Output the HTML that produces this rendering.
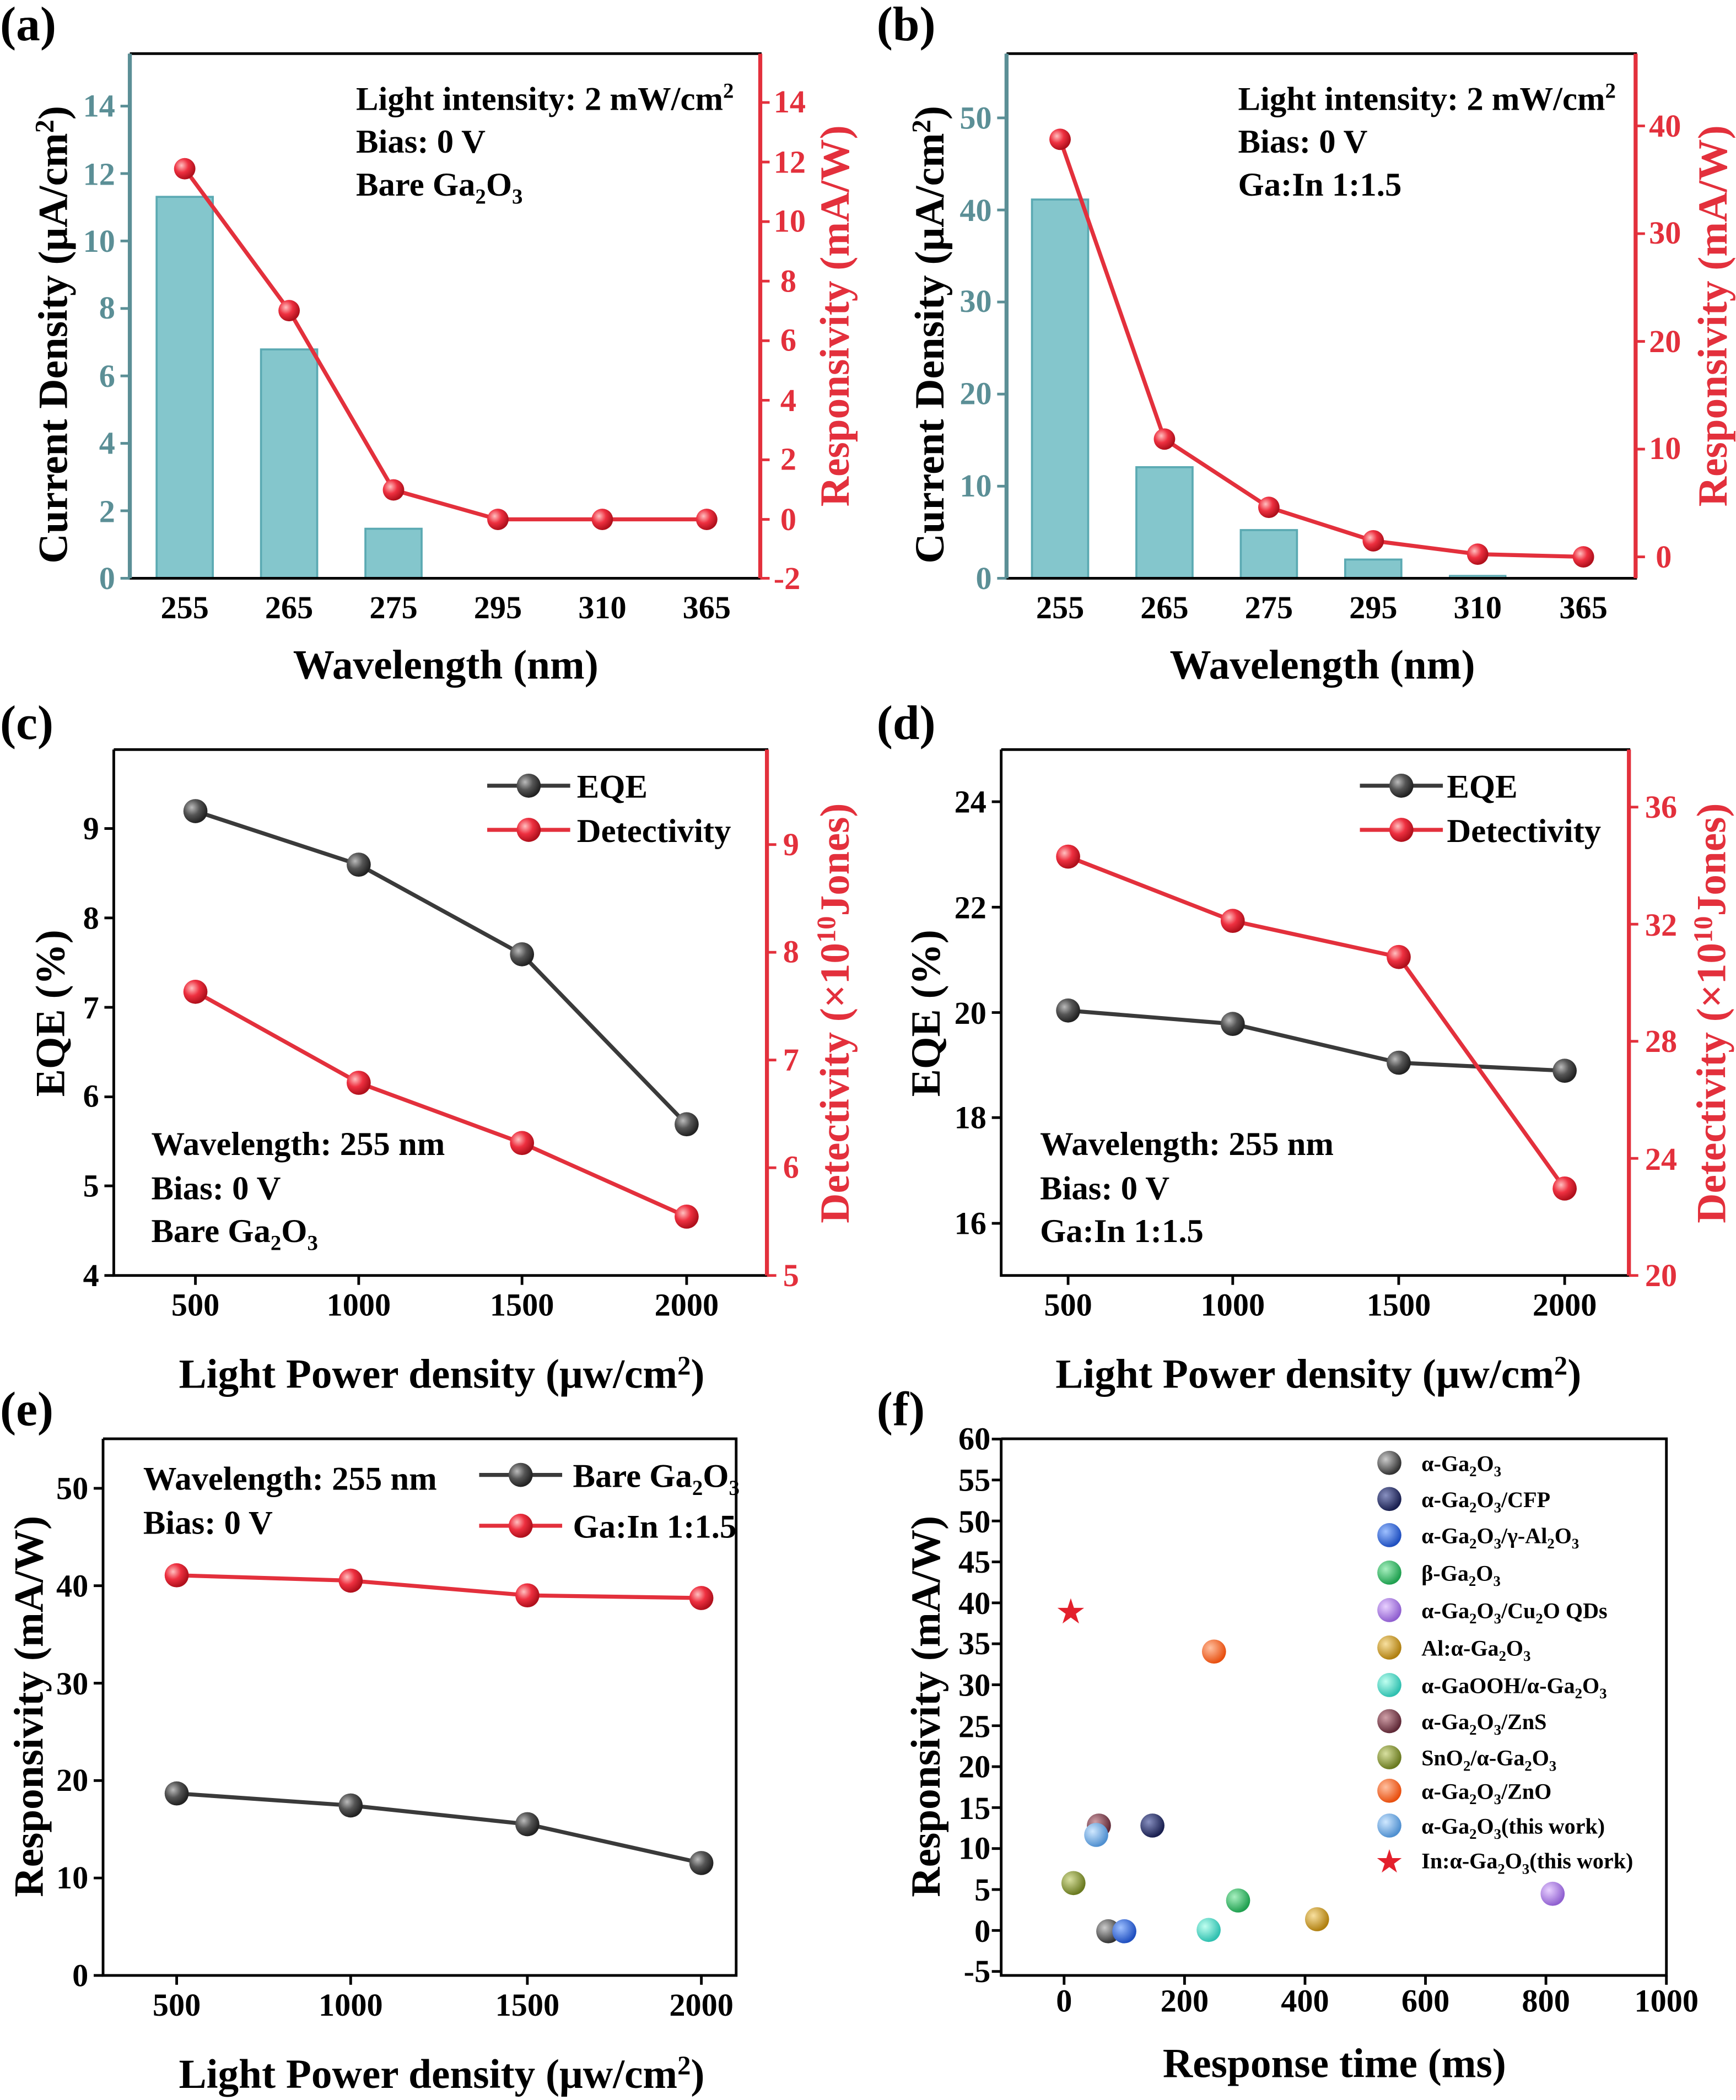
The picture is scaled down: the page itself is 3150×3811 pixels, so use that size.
<!DOCTYPE html>
<html><head><meta charset="utf-8"><style>
html,body{margin:0;padding:0;background:#fff}
svg{display:block}
text{font-family:"Liberation Serif",serif;font-weight:bold}
.t{font-size:24px;font-weight:bold}
.ti{font-size:31px}
.an{font-size:25px}
.p{font-size:36px}
.tl{fill:#5b8f96}
.r{fill:#e3303c}
</style></head><body>
<svg width="3150" height="3811" viewBox="0 0 1297 1569" xmlns="http://www.w3.org/2000/svg">
<defs>
<radialGradient id="gk" cx="35%" cy="35%" r="65%"><stop offset="0" stop-color="#bbb"/><stop offset="0.5" stop-color="#555"/><stop offset="1" stop-color="#222"/></radialGradient>
<radialGradient id="gr" cx="35%" cy="35%" r="65%"><stop offset="0" stop-color="#ffc0c0"/><stop offset="0.5" stop-color="#ee3040"/><stop offset="1" stop-color="#b0101c"/></radialGradient>
<radialGradient id="c1" cx="35%" cy="35%" r="65%"><stop offset="0" stop-color="#ccc"/><stop offset="1" stop-color="#333"/></radialGradient>
<radialGradient id="c2" cx="35%" cy="35%" r="65%"><stop offset="0" stop-color="#8890c0"/><stop offset="1" stop-color="#1a2050"/></radialGradient>
<radialGradient id="c3" cx="35%" cy="35%" r="65%"><stop offset="0" stop-color="#9ec0ff"/><stop offset="1" stop-color="#2050c0"/></radialGradient>
<radialGradient id="c4" cx="35%" cy="35%" r="65%"><stop offset="0" stop-color="#a8f0c0"/><stop offset="1" stop-color="#20a050"/></radialGradient>
<radialGradient id="c5" cx="35%" cy="35%" r="65%"><stop offset="0" stop-color="#e8d0ff"/><stop offset="1" stop-color="#9060d0"/></radialGradient>
<radialGradient id="c6" cx="35%" cy="35%" r="65%"><stop offset="0" stop-color="#f8e0a0"/><stop offset="1" stop-color="#b08010"/></radialGradient>
<radialGradient id="c7" cx="35%" cy="35%" r="65%"><stop offset="0" stop-color="#c0fff0"/><stop offset="1" stop-color="#30c0b0"/></radialGradient>
<radialGradient id="c8" cx="35%" cy="35%" r="65%"><stop offset="0" stop-color="#d0a0a8"/><stop offset="1" stop-color="#602a38"/></radialGradient>
<radialGradient id="c9" cx="35%" cy="35%" r="65%"><stop offset="0" stop-color="#d8e0a0"/><stop offset="1" stop-color="#6a7a20"/></radialGradient>
<radialGradient id="c10" cx="35%" cy="35%" r="65%"><stop offset="0" stop-color="#ffc0a0"/><stop offset="1" stop-color="#e85010"/></radialGradient>
<radialGradient id="c11" cx="35%" cy="35%" r="65%"><stop offset="0" stop-color="#d0e8ff"/><stop offset="1" stop-color="#5090d0"/></radialGradient>
</defs>

<text class="p" x="0" y="30">(a)</text>
<text class="p" x="655" y="30">(b)</text>
<text class="p" x="0" y="552">(c)</text>
<text class="p" x="655" y="552">(d)</text>
<text class="p" x="0" y="1065">(e)</text>
<text class="p" x="655" y="1065">(f)</text>

<!-- (a) -->
<g>
<rect x="117" y="147" width="42" height="285" fill="#84c6cc" stroke="#5aa9b2" stroke-width="1.5"/>
<rect x="195" y="261" width="42" height="171" fill="#84c6cc" stroke="#5aa9b2" stroke-width="1.5"/>
<rect x="273" y="395" width="42" height="37" fill="#84c6cc" stroke="#5aa9b2" stroke-width="1.5"/>
<path d="M97 40V432H568V40H97" fill="none" stroke="#000" stroke-width="2"/>
<line x1="97" y1="40" x2="97" y2="432" stroke="#5b8f96" stroke-width="3"/>
<line x1="568" y1="40" x2="568" y2="432" stroke="#e3303c" stroke-width="3"/>
<g stroke="#5b8f96" stroke-width="2"><path d="M97 432h-7M97 381.6h-7M97 331.2h-7M97 280.8h-7M97 230.4h-7M97 180h-7M97 129.6h-7M97 79.2h-7"/></g>
<g stroke="#e3303c" stroke-width="2"><path d="M568 432h7M568 388h7M568 343.5h7M568 299h7M568 254.5h7M568 210h7M568 165.5h7M568 121h7M568 76.5h7"/></g>
<g class="t tl" text-anchor="end"><text x="86" y="440">0</text><text x="86" y="390">2</text><text x="86" y="339">4</text><text x="86" y="289">6</text><text x="86" y="238">8</text><text x="86" y="188">10</text><text x="86" y="138">12</text><text x="86" y="87">14</text></g>
<g class="t r" text-anchor="start"><text x="578" y="440">-2</text><text x="583" y="396">0</text><text x="583" y="351">2</text><text x="583" y="307">4</text><text x="583" y="262">6</text><text x="583" y="218">8</text><text x="578" y="173">10</text><text x="578" y="129">12</text><text x="578" y="84">14</text></g>
<g class="t" text-anchor="middle"><text x="138" y="462">255</text><text x="216" y="462">265</text><text x="294" y="462">275</text><text x="372" y="462">295</text><text x="450" y="462">310</text><text x="528" y="462">365</text></g>
<polyline points="138,126 216,232 294,366 372,388 450,388 528,388" fill="none" stroke="#e3303c" stroke-width="3"/>
<g fill="url(#gr)"><circle cx="138" cy="126" r="8"/><circle cx="216" cy="232" r="8"/><circle cx="294" cy="366" r="8"/><circle cx="372" cy="388" r="8"/><circle cx="450" cy="388" r="8"/><circle cx="528" cy="388" r="8"/></g>
<g class="an"><text x="266" y="82">Light intensity: 2 mW/cm<tspan dy="-9" font-size="16">2</tspan></text><text x="266" y="114">Bias: 0 V</text><text x="266" y="146">Bare Ga<tspan dy="6" font-size="16">2</tspan><tspan dy="-6">O</tspan><tspan dy="6" font-size="16">3</tspan></text></g>
<text class="ti" text-anchor="middle" transform="translate(50,250) rotate(-90)">Current Density (μA/cm<tspan dy="-10" font-size="20">2</tspan><tspan dy="10">)</tspan></text>
<text class="ti r" text-anchor="middle" transform="translate(634,236) rotate(-90)">Responsivity (mA/W)</text>
<text class="ti" text-anchor="middle" x="333" y="507">Wavelength (nm)</text>
</g>

<!-- (b) -->
<g>
<rect x="771" y="149" width="42" height="283" fill="#84c6cc" stroke="#5aa9b2" stroke-width="1.5"/>
<rect x="849" y="349" width="42" height="83" fill="#84c6cc" stroke="#5aa9b2" stroke-width="1.5"/>
<rect x="927" y="396" width="42" height="36" fill="#84c6cc" stroke="#5aa9b2" stroke-width="1.5"/>
<rect x="1005" y="418" width="42" height="14" fill="#84c6cc" stroke="#5aa9b2" stroke-width="1.5"/>
<rect x="1083" y="430" width="42" height="2" fill="#84c6cc" stroke="#5aa9b2" stroke-width="1"/>
<path d="M752 40V432H1222V40H752" fill="none" stroke="#000" stroke-width="2"/>
<line x1="752" y1="40" x2="752" y2="432" stroke="#5b8f96" stroke-width="3"/>
<line x1="1222" y1="40" x2="1222" y2="432" stroke="#e3303c" stroke-width="3"/>
<g stroke="#5b8f96" stroke-width="2"><path d="M752 432h-7M752 363.2h-7M752 294.4h-7M752 225.6h-7M752 156.8h-7M752 88h-7"/></g>
<g stroke="#e3303c" stroke-width="2"><path d="M1222 416h7M1222 335.5h7M1222 255h7M1222 174.5h7M1222 94h7"/></g>
<g class="t tl" text-anchor="end"><text x="741" y="440">0</text><text x="741" y="371">10</text><text x="741" y="302">20</text><text x="741" y="233">30</text><text x="741" y="165">40</text><text x="741" y="96">50</text></g>
<g class="t r"><text x="1237" y="424">0</text><text x="1232" y="343">10</text><text x="1232" y="263">20</text><text x="1232" y="182">30</text><text x="1232" y="102">40</text></g>
<g class="t" text-anchor="middle"><text x="792" y="462">255</text><text x="870" y="462">265</text><text x="948" y="462">275</text><text x="1026" y="462">295</text><text x="1104" y="462">310</text><text x="1183" y="462">365</text></g>
<polyline points="792,104 870,328 948,379 1026,404 1104,414 1183,416" fill="none" stroke="#e3303c" stroke-width="3"/>
<g fill="url(#gr)"><circle cx="792" cy="104" r="8"/><circle cx="870" cy="328" r="8"/><circle cx="948" cy="379" r="8"/><circle cx="1026" cy="404" r="8"/><circle cx="1104" cy="414" r="8"/><circle cx="1183" cy="416" r="8"/></g>
<g class="an"><text x="925" y="82">Light intensity: 2 mW/cm<tspan dy="-9" font-size="16">2</tspan></text><text x="925" y="114">Bias: 0 V</text><text x="925" y="146">Ga:In 1:1.5</text></g>
<text class="ti" text-anchor="middle" transform="translate(705,250) rotate(-90)">Current Density (μA/cm<tspan dy="-10" font-size="20">2</tspan><tspan dy="10">)</tspan></text>
<text class="ti r" text-anchor="middle" transform="translate(1290,236) rotate(-90)">Responsivity (mA/W)</text>
<text class="ti" text-anchor="middle" x="988" y="507">Wavelength (nm)</text>
</g>

<!-- (c) -->
<g>
<path d="M85 560V953H573V560H85" fill="none" stroke="#000" stroke-width="2"/>
<line x1="573" y1="560" x2="573" y2="953" stroke="#e3303c" stroke-width="3"/>
<g stroke="#000" stroke-width="2"><path d="M85 953h-7M85 886h-7M85 819.5h-7M85 752.6h-7M85 685.8h-7M85 619h-7M146 953v7M268 953v7M390 953v7M513 953v7"/></g>
<g stroke="#e3303c" stroke-width="2"><path d="M573 953h7M573 872.5h7M573 792h7M573 711.5h7M573 631h7"/></g>
<g class="t" text-anchor="end"><text x="74" y="961">4</text><text x="74" y="894">5</text><text x="74" y="827">6</text><text x="74" y="761">7</text><text x="74" y="694">8</text><text x="74" y="627">9</text></g>
<g class="t r"><text x="585" y="961">5</text><text x="585" y="880">6</text><text x="585" y="800">7</text><text x="585" y="719">8</text><text x="585" y="639">9</text></g>
<g class="t" text-anchor="middle"><text x="146" y="983">500</text><text x="268" y="983">1000</text><text x="390" y="983">1500</text><text x="513" y="983">2000</text></g>
<polyline points="146,606 268,646 390,713 513,840" fill="none" stroke="#3a3a3a" stroke-width="3"/>
<polyline points="146,741 268,809 390,854 513,909" fill="none" stroke="#e3303c" stroke-width="3"/>
<g fill="url(#gk)"><circle cx="146" cy="606" r="9"/><circle cx="268" cy="646" r="9"/><circle cx="390" cy="713" r="9"/><circle cx="513" cy="840" r="9"/></g>
<g fill="url(#gr)"><circle cx="146" cy="741" r="9"/><circle cx="268" cy="809" r="9"/><circle cx="390" cy="854" r="9"/><circle cx="513" cy="909" r="9"/></g>
<line x1="364" y1="587" x2="426" y2="587" stroke="#3a3a3a" stroke-width="3"/><circle cx="395" cy="587" r="9" fill="url(#gk)"/>
<line x1="364" y1="620" x2="426" y2="620" stroke="#e3303c" stroke-width="3"/><circle cx="395" cy="620" r="9" fill="url(#gr)"/>
<g class="an"><text x="431" y="596">EQE</text><text x="431" y="629">Detectivity</text></g>
<g class="an"><text x="113" y="863">Wavelength: 255 nm</text><text x="113" y="896">Bias: 0 V</text><text x="113" y="928">Bare Ga<tspan dy="6" font-size="16">2</tspan><tspan dy="-6">O</tspan><tspan dy="6" font-size="16">3</tspan></text></g>
<text class="ti" text-anchor="middle" transform="translate(48,757) rotate(-90)">EQE (%)</text>
<text class="ti r" text-anchor="middle" transform="translate(634,757) rotate(-90)">Detectivity (×10<tspan dy="-10" font-size="20">10</tspan><tspan dy="10">Jones)</tspan></text>
<text class="ti" text-anchor="middle" x="330" y="1037">Light Power density (μw/cm<tspan dy="-10" font-size="20">2</tspan><tspan dy="10">)</tspan></text>
</g>

<!-- (d) -->
<g>
<path d="M748 560V953H1217V560H748" fill="none" stroke="#000" stroke-width="2"/>
<line x1="1217" y1="560" x2="1217" y2="953" stroke="#e3303c" stroke-width="3"/>
<g stroke="#000" stroke-width="2"><path d="M748 914h-7M748 835h-7M748 756.5h-7M748 677.8h-7M748 599h-7M798 953v7M921 953v7M1045 953v7M1169 953v7"/></g>
<g stroke="#e3303c" stroke-width="2"><path d="M1217 953h7M1217 865.5h7M1217 778h7M1217 690.5h7M1217 603h7"/></g>
<g class="t" text-anchor="end"><text x="737" y="922">16</text><text x="737" y="843">18</text><text x="737" y="765">20</text><text x="737" y="686">22</text><text x="737" y="607">24</text></g>
<g class="t r"><text x="1229" y="961">20</text><text x="1229" y="874">24</text><text x="1229" y="786">28</text><text x="1229" y="699">32</text><text x="1229" y="611">36</text></g>
<g class="t" text-anchor="middle"><text x="798" y="983">500</text><text x="921" y="983">1000</text><text x="1045" y="983">1500</text><text x="1169" y="983">2000</text></g>
<polyline points="798,755 921,765 1045,794 1169,800" fill="none" stroke="#3a3a3a" stroke-width="3"/>
<polyline points="798,640 921,688 1045,715 1169,888" fill="none" stroke="#e3303c" stroke-width="3"/>
<g fill="url(#gk)"><circle cx="798" cy="755" r="9"/><circle cx="921" cy="765" r="9"/><circle cx="1045" cy="794" r="9"/><circle cx="1169" cy="800" r="9"/></g>
<g fill="url(#gr)"><circle cx="798" cy="640" r="9"/><circle cx="921" cy="688" r="9"/><circle cx="1045" cy="715" r="9"/><circle cx="1169" cy="888" r="9"/></g>
<line x1="1016" y1="587" x2="1078" y2="587" stroke="#3a3a3a" stroke-width="3"/><circle cx="1047" cy="587" r="9" fill="url(#gk)"/>
<line x1="1016" y1="620" x2="1078" y2="620" stroke="#e3303c" stroke-width="3"/><circle cx="1047" cy="620" r="9" fill="url(#gr)"/>
<g class="an"><text x="1081" y="596">EQE</text><text x="1081" y="629">Detectivity</text></g>
<g class="an"><text x="777" y="863">Wavelength: 255 nm</text><text x="777" y="896">Bias: 0 V</text><text x="777" y="928">Ga:In  1:1.5</text></g>
<text class="ti" text-anchor="middle" transform="translate(702,757) rotate(-90)">EQE (%)</text>
<text class="ti r" text-anchor="middle" transform="translate(1289,757) rotate(-90)">Detectivity (×10<tspan dy="-10" font-size="20">10</tspan><tspan dy="10">Jones)</tspan></text>
<text class="ti" text-anchor="middle" x="985" y="1037">Light Power density (μw/cm<tspan dy="-10" font-size="20">2</tspan><tspan dy="10">)</tspan></text>
</g>

<!-- (e) -->
<g>
<path d="M77 1075V1476H550V1075H77" fill="none" stroke="#000" stroke-width="2"/>
<g stroke="#000" stroke-width="2"><path d="M77 1476h-7M77 1403.2h-7M77 1330.4h-7M77 1257.6h-7M77 1184.8h-7M77 1112h-7M132 1476v7M262 1476v7M394 1476v7M524 1476v7"/></g>
<g class="t" text-anchor="end"><text x="66" y="1484">0</text><text x="66" y="1411">10</text><text x="66" y="1338">20</text><text x="66" y="1266">30</text><text x="66" y="1193">40</text><text x="66" y="1120">50</text></g>
<g class="t" text-anchor="middle"><text x="132" y="1506">500</text><text x="262" y="1506">1000</text><text x="394" y="1506">1500</text><text x="524" y="1506">2000</text></g>
<polyline points="132,1340 262,1349 394,1363 524,1392" fill="none" stroke="#3a3a3a" stroke-width="3"/>
<polyline points="132,1177 262,1181 394,1192 524,1194" fill="none" stroke="#e3303c" stroke-width="3"/>
<g fill="url(#gk)"><circle cx="132" cy="1340" r="9"/><circle cx="262" cy="1349" r="9"/><circle cx="394" cy="1363" r="9"/><circle cx="524" cy="1392" r="9"/></g>
<g fill="url(#gr)"><circle cx="132" cy="1177" r="9"/><circle cx="262" cy="1181" r="9"/><circle cx="394" cy="1192" r="9"/><circle cx="524" cy="1194" r="9"/></g>
<line x1="358" y1="1102" x2="420" y2="1102" stroke="#3a3a3a" stroke-width="3"/><circle cx="389" cy="1102" r="9" fill="url(#gk)"/>
<line x1="358" y1="1140" x2="420" y2="1140" stroke="#e3303c" stroke-width="3"/><circle cx="389" cy="1140" r="9" fill="url(#gr)"/>
<g class="an"><text x="428" y="1111">Bare Ga<tspan dy="6" font-size="16">2</tspan><tspan dy="-6">O</tspan><tspan dy="6" font-size="16">3</tspan></text><text x="428" y="1149">Ga:In 1:1.5</text></g>
<g class="an"><text x="107" y="1113">Wavelength: 255 nm</text><text x="107" y="1146">Bias: 0 V</text></g>
<text class="ti" text-anchor="middle" transform="translate(32,1275) rotate(-90)">Responsivity (mA/W)</text>
<text class="ti" text-anchor="middle" x="330" y="1560">Light Power density (μw/cm<tspan dy="-10" font-size="20">2</tspan><tspan dy="10">)</tspan></text>
</g>

<!-- (f) -->
<g>
<path d="M748 1075V1476H1245V1075H748" fill="none" stroke="#000" stroke-width="2"/>
<g stroke="#000" stroke-width="2"><path d="M748 1473h-7M748 1442.4h-7M748 1411.8h-7M748 1381.2h-7M748 1350.6h-7M748 1320h-7M748 1289.4h-7M748 1258.8h-7M748 1228.2h-7M748 1197.6h-7M748 1167h-7M748 1136.4h-7M748 1105.8h-7M748 1075.2h-7M795 1476v7M885 1476v7M975 1476v7M1065 1476v7M1155 1476v7M1245 1476v7"/></g>
<g class="t" text-anchor="end"><text x="740" y="1481">-5</text><text x="740" y="1451">0</text><text x="740" y="1420">5</text><text x="740" y="1389">10</text><text x="740" y="1359">15</text><text x="740" y="1328">20</text><text x="740" y="1298">25</text><text x="740" y="1267">30</text><text x="740" y="1236">35</text><text x="740" y="1206">40</text><text x="740" y="1175">45</text><text x="740" y="1145">50</text><text x="740" y="1114">55</text><text x="740" y="1083">60</text></g>
<g class="t" text-anchor="middle"><text x="795" y="1503">0</text><text x="885" y="1503">200</text><text x="975" y="1503">400</text><text x="1065" y="1503">600</text><text x="1155" y="1503">800</text><text x="1245" y="1503">1000</text></g>
<circle cx="828" cy="1443" r="9" fill="url(#c1)"/>
<circle cx="861" cy="1364" r="9" fill="url(#c2)"/>
<circle cx="840" cy="1443" r="9" fill="url(#c3)"/>
<circle cx="925" cy="1420" r="9" fill="url(#c4)"/>
<circle cx="1160" cy="1415" r="9" fill="url(#c5)"/>
<circle cx="984" cy="1434" r="9" fill="url(#c6)"/>
<circle cx="903" cy="1442" r="9" fill="url(#c7)"/>
<circle cx="821" cy="1364" r="9" fill="url(#c8)"/>
<circle cx="802" cy="1407" r="9" fill="url(#c9)"/>
<circle cx="907" cy="1234" r="9" fill="url(#c10)"/>
<circle cx="819" cy="1371" r="9" fill="url(#c11)"/>
<text x="800" y="1213" text-anchor="middle" font-size="26" fill="#e3202c" style="font-family:'DejaVu Sans',sans-serif">★</text>
<g>
<circle cx="1038" cy="1093" r="9" fill="url(#c1)"/><circle cx="1038" cy="1120" r="9" fill="url(#c2)"/><circle cx="1038" cy="1147" r="9" fill="url(#c3)"/><circle cx="1038" cy="1175" r="9" fill="url(#c4)"/><circle cx="1038" cy="1203" r="9" fill="url(#c5)"/><circle cx="1038" cy="1231" r="9" fill="url(#c6)"/><circle cx="1038" cy="1259" r="9" fill="url(#c7)"/><circle cx="1038" cy="1286" r="9" fill="url(#c8)"/><circle cx="1038" cy="1313" r="9" fill="url(#c9)"/><circle cx="1038" cy="1338" r="9" fill="url(#c10)"/><circle cx="1038" cy="1364" r="9" fill="url(#c11)"/>
<text x="1038" y="1399" text-anchor="middle" font-size="24" fill="#e3202c" style="font-family:'DejaVu Sans',sans-serif">★</text>
</g>
<g font-size="16.5">
<text x="1062" y="1099">α-Ga<tspan dy="4" font-size="11">2</tspan><tspan dy="-4">O</tspan><tspan dy="4" font-size="11">3</tspan></text>
<text x="1062" y="1126">α-Ga<tspan dy="4" font-size="11">2</tspan><tspan dy="-4">O</tspan><tspan dy="4" font-size="11">3</tspan><tspan dy="-4">/CFP</tspan></text>
<text x="1062" y="1153">α-Ga<tspan dy="4" font-size="11">2</tspan><tspan dy="-4">O</tspan><tspan dy="4" font-size="11">3</tspan><tspan dy="-4">/γ-Al</tspan><tspan dy="4" font-size="11">2</tspan><tspan dy="-4">O</tspan><tspan dy="4" font-size="11">3</tspan></text>
<text x="1062" y="1181">β-Ga<tspan dy="4" font-size="11">2</tspan><tspan dy="-4">O</tspan><tspan dy="4" font-size="11">3</tspan></text>
<text x="1062" y="1209">α-Ga<tspan dy="4" font-size="11">2</tspan><tspan dy="-4">O</tspan><tspan dy="4" font-size="11">3</tspan><tspan dy="-4">/Cu</tspan><tspan dy="4" font-size="11">2</tspan><tspan dy="-4">O QDs</tspan></text>
<text x="1062" y="1237">Al:α-Ga<tspan dy="4" font-size="11">2</tspan><tspan dy="-4">O</tspan><tspan dy="4" font-size="11">3</tspan></text>
<text x="1062" y="1265">α-GaOOH/α-Ga<tspan dy="4" font-size="11">2</tspan><tspan dy="-4">O</tspan><tspan dy="4" font-size="11">3</tspan></text>
<text x="1062" y="1292">α-Ga<tspan dy="4" font-size="11">2</tspan><tspan dy="-4">O</tspan><tspan dy="4" font-size="11">3</tspan><tspan dy="-4">/ZnS</tspan></text>
<text x="1062" y="1319">SnO<tspan dy="4" font-size="11">2</tspan><tspan dy="-4">/α-Ga</tspan><tspan dy="4" font-size="11">2</tspan><tspan dy="-4">O</tspan><tspan dy="4" font-size="11">3</tspan></text>
<text x="1062" y="1344">α-Ga<tspan dy="4" font-size="11">2</tspan><tspan dy="-4">O</tspan><tspan dy="4" font-size="11">3</tspan><tspan dy="-4">/ZnO</tspan></text>
<text x="1062" y="1370">α-Ga<tspan dy="4" font-size="11">2</tspan><tspan dy="-4">O</tspan><tspan dy="4" font-size="11">3</tspan><tspan dy="-4">(this work)</tspan></text>
<text x="1062" y="1396">In:α-Ga<tspan dy="4" font-size="11">2</tspan><tspan dy="-4">O</tspan><tspan dy="4" font-size="11">3</tspan><tspan dy="-4">(this work)</tspan></text>
</g>
<text class="ti" text-anchor="middle" transform="translate(702,1275) rotate(-90)">Responsivity (mA/W)</text>
<text class="ti" text-anchor="middle" x="997" y="1552">Response time (ms)</text>
</g>
</svg>
</body></html>
